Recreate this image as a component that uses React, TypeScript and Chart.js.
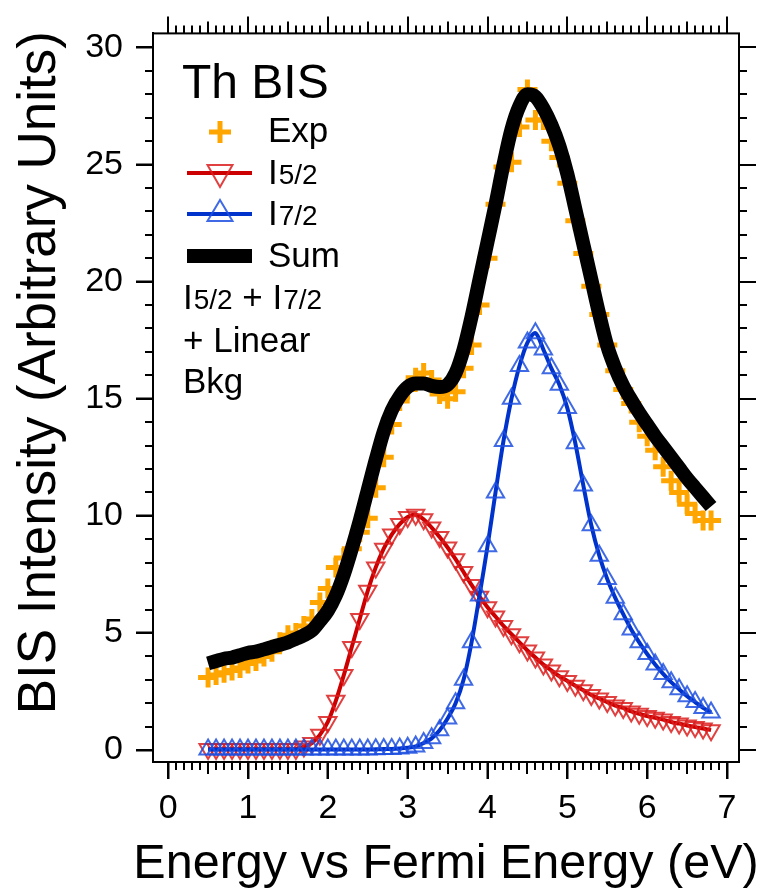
import React, { useEffect, useRef } from 'react';
import { Chart, registerables } from 'chart.js';
Chart.register(...registerables);

const FONT = "'Liberation Sans', Arial, Helvetica, sans-serif";

const energy = [
  0.5, 0.6, 0.7, 0.8, 0.9, 1.0, 1.1, 1.2, 1.3, 1.4, 1.5, 1.6, 1.7, 1.8, 1.9,
  2.0, 2.1, 2.2, 2.3, 2.4, 2.5, 2.6, 2.7, 2.8, 2.9, 3.0, 3.1, 3.2, 3.3, 3.4,
  3.5, 3.6, 3.7, 3.8, 3.9, 4.0, 4.1, 4.2, 4.3, 4.4, 4.5, 4.6, 4.7, 4.8, 4.9,
  5.0, 5.1, 5.2, 5.3, 5.4, 5.5, 5.6, 5.7, 5.8, 5.9, 6.0, 6.1, 6.2, 6.3, 6.4,
  6.5, 6.6, 6.7, 6.8,
];

const expData = [
  3.1, 3.2, 3.3, 3.4, 3.5, 3.7, 3.8, 4.0, 4.2, 4.6, 4.9, 5.0, 5.3, 5.6, 6.3,
  6.9, 7.8, 8.2, 8.6, 9.3, 9.9, 11.2, 12.5, 13.9, 14.9, 15.4, 15.9, 16.1, 15.8, 15.2,
  15.0, 15.3, 16.3, 17.3, 19.0, 21.0, 23.3, 24.9, 25.1, 26.6, 28.2, 26.9, 26.9, 26.0, 25.3,
  24.2, 22.6, 21.2, 19.8, 18.6, 17.3, 16.2, 15.4, 14.8, 14.0, 13.4, 12.8, 12.1, 11.5, 11.0,
  10.5, 10.1, 9.8, 9.8,
];

const i52Data = [
  0.05, 0.05, 0.05, 0.05, 0.05, 0.05, 0.05, 0.05, 0.05, 0.05, 0.05, 0.05, 0.15, 0.3, 0.65,
  1.2, 2.1, 3.2, 4.4, 5.6, 6.8, 7.8, 8.6, 9.2, 9.65, 9.95, 10.05, 9.85, 9.5, 9.1,
  8.65, 8.15, 7.6, 7.05, 6.55, 6.1, 5.7, 5.3, 4.95, 4.6, 4.25, 3.95, 3.65, 3.4, 3.15,
  2.95, 2.75, 2.55, 2.35, 2.2, 2.05, 1.9, 1.8, 1.65, 1.55, 1.45, 1.38, 1.3, 1.2, 1.13,
  1.05, 0.98, 0.92, 0.85,
];

const i72Data = [
  0.02, 0.02, 0.02, 0.02, 0.02, 0.02, 0.02, 0.02, 0.02, 0.02, 0.02, 0.02, 0.02, 0.02, 0.02,
  0.02, 0.02, 0.02, 0.02, 0.02, 0.02, 0.03, 0.04, 0.05, 0.07, 0.1, 0.15, 0.3, 0.5, 0.85,
  1.35, 2.0, 3.0, 4.6, 6.6, 8.7, 11.0, 13.2, 15.0, 16.4, 17.4, 17.8, 17.1, 16.3, 15.6,
  14.6, 13.1, 11.3, 9.6, 8.3, 7.3, 6.5, 5.8, 5.15, 4.6, 4.1, 3.65, 3.25, 2.9, 2.6,
  2.3, 2.05, 1.8, 1.6,
];

const sumData = [
  3.7, 3.8, 3.9, 3.95, 4.05, 4.15, 4.2, 4.3, 4.4, 4.5, 4.6, 4.75, 4.9, 5.1, 5.5,
  5.95, 6.6, 7.5, 8.6, 9.8, 11.1, 12.4, 13.6, 14.5, 15.1, 15.5, 15.65, 15.65, 15.55, 15.5,
  15.6, 16.1, 17.1, 18.5, 20.1, 21.7, 23.3, 25.0, 26.5, 27.5, 28.0, 27.9, 27.4, 26.7, 25.8,
  24.6, 23.1, 21.6, 20.1, 18.6, 17.25, 16.3, 15.55, 14.95, 14.4, 13.9, 13.4, 12.95, 12.5, 12.05,
  11.6, 11.2, 10.8, 10.4,
];

const xTickValues = [0, 1, 2, 3, 4, 5, 6, 7];
const yTickValues = [0, 5, 10, 15, 20, 25, 30];
const xMinorStep = 0.1;
const yMinorStep = 1;

const xTitle = 'Energy vs Fermi Energy (eV)';
const yTitle = 'BIS Intensity (Arbitrary Units)';
const legendTitle = 'Th BIS';
const noteLines = ['+ Linear', 'Bkg'];

const ORANGE = '#FFA500';
const RED = '#CC0000';
const RED_MK = 'rgba(220,30,30,0.85)';
const BLUE = '#0033CC';
const BLUE_MK = 'rgba(30,80,225,0.85)';
const LEG = 35;

const framePlugin = {
  id: 'frameTicks',
  afterDraw(chart: any) {
    const { ctx, chartArea: a, scales } = chart;
    const xs = scales.x;
    const ys = scales.y;
    ctx.save();
    ctx.strokeStyle = '#000';
    ctx.lineWidth = 2;
    ctx.strokeRect(a.left, a.top, a.right - a.left, a.bottom - a.top);
    ctx.beginPath();
    const x0 = xTickValues[0];
    const x1 = xTickValues[xTickValues.length - 1];
    const nx = Math.round((x1 - x0) / xMinorStep);
    for (let k = 0; k <= nx; k++) {
      const v = x0 + k * xMinorStep;
      const px = Math.round(xs.getPixelForValue(v));
      const len = k % 10 === 0 ? 17 : k % 5 === 0 ? 12 : 8;
      ctx.moveTo(px, a.bottom);
      ctx.lineTo(px, a.bottom + len);
      ctx.moveTo(px, a.top);
      ctx.lineTo(px, a.top - len);
    }
    const y0 = yTickValues[0];
    const y1 = yTickValues[yTickValues.length - 1];
    const ny = Math.round((y1 - y0) / yMinorStep);
    for (let k = 0; k <= ny; k++) {
      const v = y0 + k * yMinorStep;
      const py = Math.round(ys.getPixelForValue(v));
      const len = k % 5 === 0 ? 17 : 8;
      ctx.moveTo(a.left, py);
      ctx.lineTo(a.left - len, py);
      ctx.moveTo(a.right, py);
      ctx.lineTo(a.right + len, py);
    }
    ctx.stroke();

    // axis titles
    ctx.fillStyle = '#000';
    ctx.textAlign = 'center';
    ctx.textBaseline = 'alphabetic';
    ctx.font = `48.5px ${FONT}`;
    ctx.fillText(xTitle, (a.left + a.right) / 2, 878);

    ctx.save();
    ctx.translate(40, (a.top + a.bottom) / 2 - 25);
    ctx.rotate(-Math.PI / 2);
    ctx.font = `53px ${FONT}`;
    ctx.textAlign = 'center';
    ctx.textBaseline = 'middle';
    ctx.fillText(yTitle, 0, 0);
    ctx.restore();
    ctx.restore();
  },
};

function drawSubLabel(ctx: CanvasRenderingContext2D, x: number, y: number, main: string, sub: string, size: number) {
  ctx.font = `${size}px ${FONT}`;
  ctx.fillText(main, x, y);
  const w = ctx.measureText(main).width;
  ctx.font = `${Math.round(size * 0.8)}px ${FONT}`;
  ctx.fillText(sub, x + w + 1, y);
  return x + w + 1 + ctx.measureText(sub).width;
}

const legendPlugin = {
  id: 'customLegend',
  afterDraw(chart: any) {
    const ctx: CanvasRenderingContext2D = chart.ctx;
    ctx.save();
    ctx.fillStyle = '#000';
    ctx.textAlign = 'left';
    ctx.textBaseline = 'alphabetic';
    ctx.font = `48px ${FONT}`;
    ctx.fillText(legendTitle, 182, 98);

    // Exp
    ctx.strokeStyle = ORANGE;
    ctx.lineWidth = 5;
    ctx.beginPath();
    ctx.moveTo(209, 132); ctx.lineTo(231, 132);
    ctx.moveTo(220, 121); ctx.lineTo(220, 143);
    ctx.stroke();
    ctx.font = `${LEG}px ${FONT}`;
    ctx.fillText('Exp', 268, 142);

    // I5/2
    ctx.strokeStyle = RED;
    ctx.lineWidth = 4;
    ctx.beginPath(); ctx.moveTo(187, 173); ctx.lineTo(252, 173); ctx.stroke();
    ctx.strokeStyle = RED_MK;
    ctx.lineWidth = 2;
    ctx.beginPath();
    ctx.moveTo(220 - 12.5, 165); ctx.lineTo(220 + 12.5, 165); ctx.lineTo(220, 187); ctx.closePath();
    ctx.stroke();
    ctx.fillStyle = '#000';
    drawSubLabel(ctx, 268, 184, 'I', '5/2', LEG);

    // I7/2
    ctx.strokeStyle = BLUE;
    ctx.lineWidth = 4;
    ctx.beginPath(); ctx.moveTo(187, 214); ctx.lineTo(252, 214); ctx.stroke();
    ctx.strokeStyle = BLUE_MK;
    ctx.lineWidth = 2;
    ctx.beginPath();
    ctx.moveTo(220, 200); ctx.lineTo(220 + 12.5, 221); ctx.lineTo(220 - 12.5, 221); ctx.closePath();
    ctx.stroke();
    drawSubLabel(ctx, 268, 225, 'I', '7/2', LEG);

    // Sum
    ctx.fillStyle = '#000';
    ctx.fillRect(187, 249, 65, 14);
    ctx.font = `${LEG}px ${FONT}`;
    ctx.fillText('Sum', 268, 267);

    // note
    let x = drawSubLabel(ctx, 183, 309, 'I', '5/2', LEG);
    ctx.font = `${LEG}px ${FONT}`;
    ctx.fillText(' + ', x, 309);
    x += ctx.measureText(' + ').width;
    drawSubLabel(ctx, x, 309, 'I', '7/2', LEG);
    ctx.font = `${LEG}px ${FONT}`;
    ctx.fillText(noteLines[0], 183, 352);
    ctx.fillText(noteLines[1], 183, 393);
    ctx.restore();
  },
};

export default function App() {
  const ref = useRef<HTMLCanvasElement>(null);
  useEffect(() => {
    const canvas = ref.current!;
    const pts = (ys: number[]) => energy.map((x, i) => ({ x, y: ys[i] }));
    const tickFont = { family: FONT, size: 34 };
    const chart = new Chart(canvas, {
      type: 'line',
      data: {
        datasets: [
          {
            label: 'Sum', data: pts(sumData), borderColor: '#000', borderWidth: 14,
            pointRadius: 0, cubicInterpolationMode: 'monotone', order: 1, borderCapStyle: 'butt',
          },
          {
            label: 'I7/2', data: pts(i72Data), borderColor: BLUE, borderWidth: 4,
            pointStyle: 'triangle', pointRadius: 10, pointBorderColor: BLUE_MK,
            pointBackgroundColor: 'rgba(0,0,0,0)', pointBorderWidth: 2, tension: 0.3, order: 2,
          },
          {
            label: 'I5/2', data: pts(i52Data), borderColor: RED, borderWidth: 4,
            pointStyle: 'triangle', pointRotation: 180, pointRadius: 10, pointBorderColor: RED_MK,
            pointBackgroundColor: 'rgba(0,0,0,0)', pointBorderWidth: 2, tension: 0.3, order: 3,
          },
          {
            label: 'Exp', data: pts(expData), showLine: false, pointStyle: 'cross',
            pointRadius: 10, pointBorderWidth: 5, pointBorderColor: ORANGE,
            pointBackgroundColor: ORANGE, order: 4,
          },
        ],
      } as any,
      options: {
        responsive: false,
        maintainAspectRatio: false,
        devicePixelRatio: 1,
        animation: false,
        layout: { padding: { left: 0, top: 31, right: 24, bottom: 0 } },
        plugins: { legend: { display: false }, tooltip: { enabled: false } },
        scales: {
          x: {
            type: 'linear', min: -0.19, max: 7.15,
            afterBuildTicks: (s: any) => { s.ticks = xTickValues.map((v) => ({ value: v })); },
            afterFit: (s: any) => { s.height = 128; },
            ticks: { font: tickFont, color: '#000', padding: 9, maxRotation: 0, autoSkip: false },
            grid: { drawOnChartArea: false, drawTicks: true, tickLength: 17, tickColor: '#000', tickWidth: 2 },
            border: { display: true, color: '#000', width: 2 },
            title: { display: false, text: xTitle },
          },
          y: {
            type: 'linear', min: -0.51, max: 30.6,
            afterBuildTicks: (s: any) => { s.ticks = yTickValues.map((v) => ({ value: v })); },
            afterFit: (s: any) => { s.width = 153; },
            ticks: { font: tickFont, color: '#000', padding: 13, autoSkip: false },
            grid: { drawOnChartArea: false, drawTicks: true, tickLength: 17, tickColor: '#000', tickWidth: 2 },
            border: { display: true, color: '#000', width: 2 },
            title: { display: false, text: yTitle },
          },
        },
      } as any,
      plugins: [framePlugin, legendPlugin],
    });
    return () => chart.destroy();
  }, []);
  return (
    <div style={{ position: 'absolute', left: 0, top: 0, width: 763, height: 890, background: '#fff' }}>
      <canvas ref={ref} width={763} height={890} style={{ width: 763, height: 890, display: 'block' }} />
    </div>
  );
}
